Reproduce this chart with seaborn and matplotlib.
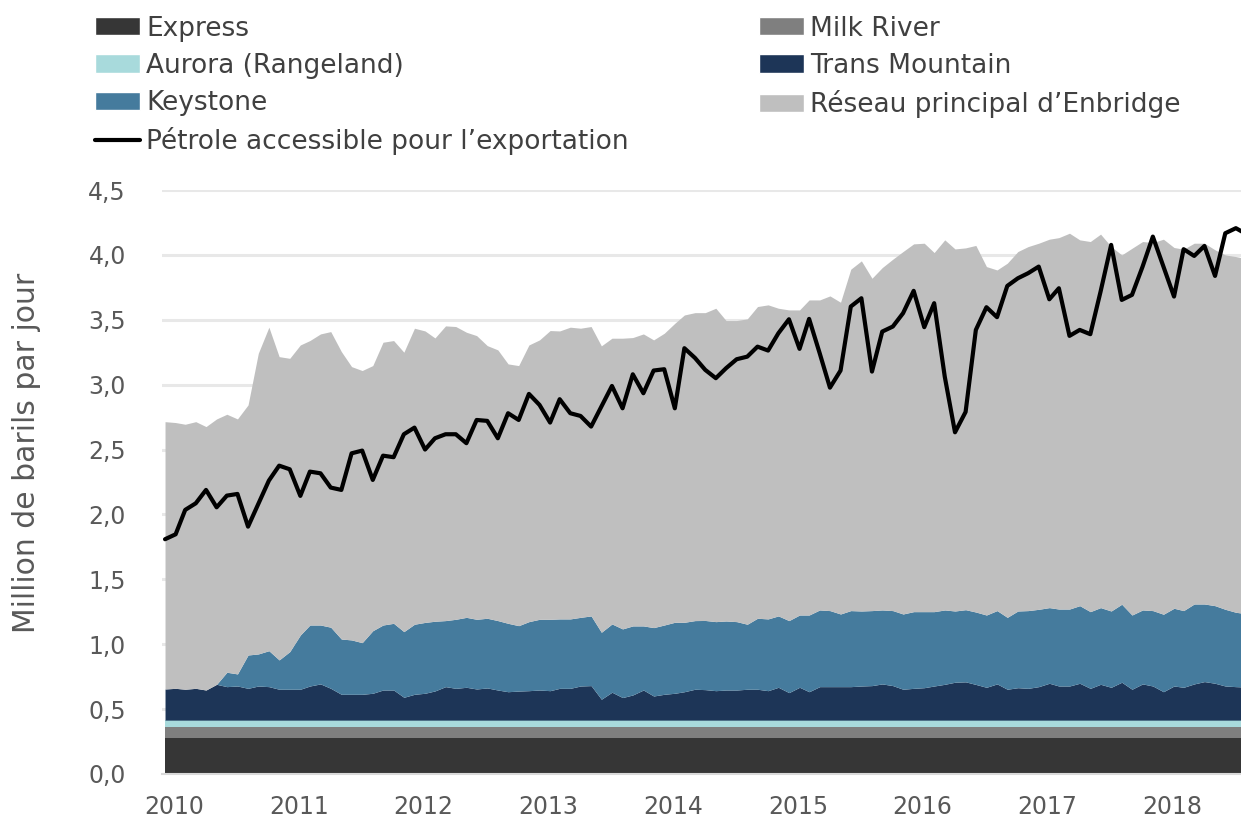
import numpy as np
import pandas as pd
import matplotlib
matplotlib.use("Agg")
import matplotlib.pyplot as plt
import matplotlib.dates as mdates
from matplotlib.patches import Patch
from matplotlib.lines import Line2D
from matplotlib.ticker import MultipleLocator, FuncFormatter
import seaborn as sns

# million barrels per day, monthly from Jan 2010
express = 0.275
milk_river = 0.09
aurora = 0.05

trans_mountain = [
    0.240, 0.245, 0.238, 0.245, 0.232, 0.276, 0.258, 0.263, 0.245, 0.263, 0.258, 0.238,
    0.238, 0.238, 0.263, 0.279, 0.245, 0.199, 0.199, 0.199, 0.207, 0.232, 0.232, 0.176,
    0.199, 0.207, 0.225, 0.258, 0.245, 0.253, 0.240, 0.248, 0.232, 0.219, 0.224, 0.227,
    0.232, 0.227, 0.245, 0.245, 0.263, 0.266, 0.161, 0.215, 0.174, 0.194, 0.232, 0.186,
    0.199, 0.207, 0.219, 0.238, 0.235, 0.227, 0.232, 0.232, 0.238, 0.238, 0.227, 0.253,
    0.212, 0.253, 0.219, 0.258, 0.258, 0.258, 0.258, 0.263, 0.266, 0.279, 0.266, 0.238,
    0.245, 0.250, 0.263, 0.276, 0.292, 0.295, 0.275, 0.253, 0.279, 0.238, 0.250, 0.245,
    0.258, 0.284, 0.263, 0.263, 0.284, 0.245, 0.276, 0.253, 0.292, 0.238, 0.279, 0.263,
    0.219, 0.263, 0.253, 0.279, 0.297, 0.284, 0.263, 0.258, 0.255,
]

keystone = [
    0.0, 0.0, 0.0, 0.0, 0.0, 0.0, 0.111, 0.093, 0.257, 0.247, 0.277, 0.226,
    0.290, 0.418, 0.470, 0.454, 0.471, 0.426, 0.419, 0.398, 0.482, 0.501, 0.514, 0.506,
    0.540, 0.546, 0.537, 0.509, 0.532, 0.539, 0.537, 0.537, 0.535, 0.527, 0.504, 0.532,
    0.545, 0.550, 0.535, 0.535, 0.529, 0.537, 0.516, 0.526, 0.529, 0.532, 0.494, 0.527,
    0.534, 0.547, 0.535, 0.529, 0.533, 0.532, 0.532, 0.527, 0.501, 0.547, 0.553, 0.550,
    0.555, 0.557, 0.591, 0.591, 0.586, 0.560, 0.586, 0.578, 0.578, 0.570, 0.578, 0.580,
    0.591, 0.586, 0.573, 0.573, 0.549, 0.556, 0.558, 0.557, 0.565, 0.554, 0.591, 0.599,
    0.596, 0.583, 0.593, 0.593, 0.598, 0.591, 0.591, 0.588, 0.601, 0.572, 0.570, 0.581,
    0.597, 0.599, 0.591, 0.616, 0.598, 0.598, 0.591, 0.573, 0.565,
]

enbridge_mainline = [
    2.060, 2.048, 2.042, 2.055, 2.030, 2.045, 1.988, 1.965, 1.927, 2.317, 2.493, 2.337,
    2.260, 2.235, 2.192, 2.243, 2.278, 2.215, 2.106, 2.097, 2.043, 2.179, 2.179, 2.153,
    2.281, 2.246, 2.183, 2.271, 2.256, 2.197, 2.186, 2.101, 2.086, 1.999, 2.004, 2.132,
    2.153, 2.225, 2.219, 2.248, 2.228, 2.230, 2.207, 2.202, 2.240, 2.222, 2.250, 2.217,
    2.248, 2.304, 2.368, 2.373, 2.372, 2.415, 2.315, 2.320, 2.353, 2.402, 2.420, 2.371,
    2.394, 2.351, 2.428, 2.389, 2.425, 2.402, 2.631, 2.698, 2.561, 2.638, 2.708, 2.793,
    2.834, 2.839, 2.767, 2.852, 2.790, 2.788, 2.825, 2.685, 2.625, 2.729, 2.770, 2.805,
    2.821, 2.839, 2.862, 2.896, 2.819, 2.852, 2.878, 2.808, 2.692, 2.826, 2.839, 2.836,
    2.890, 2.780, 2.785, 2.780, 2.780, 2.742, 2.731, 2.741, 2.735,
]

export_capacity = [
    1.809, 1.847, 2.035, 2.086, 2.189, 2.055, 2.145, 2.158, 1.906, 2.081, 2.261, 2.376,
    2.348, 2.143, 2.330, 2.317, 2.207, 2.189, 2.471, 2.492, 2.266, 2.453, 2.441, 2.618,
    2.669, 2.500, 2.587, 2.618, 2.618, 2.549, 2.728, 2.721, 2.587, 2.780, 2.728, 2.929,
    2.844, 2.708, 2.888, 2.780, 2.759, 2.677, 2.831, 2.990, 2.818, 3.080, 2.934, 3.109,
    3.119, 2.818, 3.281, 3.206, 3.114, 3.050, 3.127, 3.196, 3.216, 3.293, 3.263, 3.396,
    3.504, 3.276, 3.507, 3.242, 2.977, 3.109, 3.602, 3.666, 3.101, 3.409, 3.448, 3.551,
    3.723, 3.443, 3.628, 3.062, 2.633, 2.790, 3.422, 3.597, 3.520, 3.761, 3.820, 3.859,
    3.910, 3.658, 3.743, 3.376, 3.422, 3.389, 3.717, 4.077, 3.653, 3.692, 3.910, 4.141,
    3.910, 3.679, 4.044, 3.992, 4.069, 3.838, 4.167, 4.206, 4.160,
]

layer_names = [
    "Express",
    "Milk River",
    "Aurora (Rangeland)",
    "Trans Mountain",
    "Keystone",
    "Réseau principal d’Enbridge",
]
line_name = "Pétrole accessible pour l’exportation"
colors = ["#363636", "#7f7f7f", "#a8dadc", "#1d3557", "#457b9d", "#bfbfbf"]

months = pd.date_range("2010-01-01", periods=len(export_capacity), freq="MS") + pd.Timedelta(days=9)
n = len(months)

sns.set_theme(style="white")
plt.rcParams["font.family"] = ["DejaVu Sans"]

fig = plt.figure(figsize=(12.41, 8.24), dpi=100)
ax = fig.add_axes([0.1305, 0.0607, 0.8695, 0.7087])

layers = [
    np.full(n, express),
    np.full(n, milk_river),
    np.full(n, aurora),
    np.array(trans_mountain),
    np.array(keystone),
    np.array(enbridge_mainline),
]
ax.stackplot(months, layers, colors=colors, linewidth=0)
sns.lineplot(x=months, y=export_capacity, ax=ax, color="black", linewidth=3)

ax.set_xlim(pd.Timestamp("2010-01-01"), pd.Timestamp("2018-08-25"))
ax.set_ylim(0, 4.5)

ax.yaxis.set_major_locator(MultipleLocator(0.5))
ax.yaxis.set_major_formatter(FuncFormatter(lambda v, p: f"{v:.1f}".replace(".", ",")))
ax.yaxis.grid(True, color="#e8e8e8", linewidth=2.2)
ax.set_axisbelow(True)

ax.xaxis.set_major_locator(mdates.YearLocator())
ax.xaxis.set_major_formatter(plt.NullFormatter())
ax.xaxis.set_minor_locator(mdates.MonthLocator(bymonth=2, bymonthday=5))
ax.xaxis.set_minor_formatter(mdates.DateFormatter("%Y"))
ax.tick_params(axis="x", which="major", length=9, width=1.5, color="#d9d9d9", direction="out")
ax.tick_params(axis="x", which="minor", length=0, pad=15, labelsize=17, labelcolor="#595959")
ax.tick_params(axis="y", length=0, pad=26, labelsize=17, labelcolor="#595959")

for side in ["top", "right", "left"]:
    ax.spines[side].set_visible(False)
ax.spines["bottom"].set_color("#d9d9d9")
ax.spines["bottom"].set_linewidth(1.5)

ax.set_xlabel("")
ax.set_ylabel("Million de barils par jour", fontsize=21.5, color="#595959")
ax.yaxis.set_label_coords(-0.112, 0.55)

patches = [Patch(facecolor=c, label=l) for c, l in zip(colors, layer_names)]
export_handle = Line2D([], [], color="black", linewidth=3, label=line_name)
handles = [patches[0], patches[2], patches[4], export_handle, patches[1], patches[3], patches[5]]
fig.legend(
    handles=handles,
    loc="upper left",
    bbox_to_anchor=(0.0766, 0.981),
    ncol=2,
    frameon=False,
    fontsize=19,
    handlelength=1.7,
    handleheight=0.68,
    handletextpad=0.23,
    labelspacing=0.42,
    columnspacing=4.95,
    borderpad=0,
    borderaxespad=0,
    labelcolor="#404040",
)

fig.savefig("out.png", dpi=100)
